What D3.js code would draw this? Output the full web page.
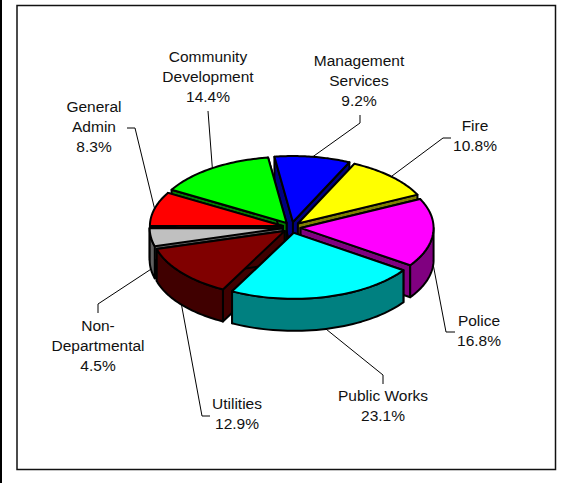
<!DOCTYPE html>
<html>
<head>
<meta charset="utf-8">
<script src="https://cdn.jsdelivr.net/npm/d3@7"></script>
<style>
  html, body { margin: 0; padding: 0; background: #fff; }
  svg { display: block; }
  text { font-family: "Liberation Sans", Arial, sans-serif; font-size: 15.5px; fill: #111; }
</style>
</head>
<body>
<svg id="chart" width="565" height="483"></svg>
<script>
// Budget shares by department, clockwise from the first slice
const departments = ["Management Services", "Fire", "Police", "Public Works", "Utilities", "Non-Departmental", "General Admin", "Community Development"];
const shares = [9.2, 10.8, 16.8, 23.1, 12.9, 4.5, 8.3, 14.4];

// Top face and side wall colours per department
const faceColors = ["#0000ff", "#ffff00", "#ff00ff", "#00ffff", "#800000", "#c0c0c0", "#ff0000", "#00ff00"];
const wallColors = ["#000080", "#808000", "#800080", "#008080", "#400000", "#606060", "#800000", "#008000"];

// Slices are painted back to front so nearer ones overlap farther walls
const paintOrder = [0, 7, 1, 6, 2, 5, 4, 3];

// Label text lines, split to fit
const labelLines = [
  ["Management", "Services", "9.2%"],
  ["Fire", "10.8%"],
  ["Police", "16.8%"],
  ["Public Works", "23.1%"],
  ["Utilities", "12.9%"],
  ["Non-", "Departmental", "4.5%"],
  ["General", "Admin", "8.3%"],
  ["Community", "Development", "14.4%"]
];

// Label anchors (centre x, first baseline y) and leader routing
const labelAnchors = [[359, 66], [475, 131], [479, 326], [383, 401], [237, 409], [98, 331], [94, 112], [208, 62]];
const leaderBends = [
  [[360, 123], [360, 115]],
  [[443, 138], [451, 138]],
  [[446, 332], [455, 332]],
  [[383, 375], [383, 384]],
  [[202, 416], [210, 416]],
  [[98, 304], [98, 313]],
  [[135, 128], [127, 128]],
  [[208, 111]]
];

const width = 565, height = 483;
const cx = 291.6, cy = 227.5, rx = 133, ry = 66, depth = 32, pullX = 9, pullY = 5.5;
const startDeg = -8;

const svg = d3.select("#chart");

// Page edge band and chart frame
svg.append("rect").attr("x", 0).attr("y", 0).attr("width", 2).attr("height", height).attr("fill", "#000");
svg.append("rect").attr("x", 17).attr("y", 5.5).attr("width", 538.5).attr("height", 464)
  .attr("fill", "#fff").attr("stroke", "#111").attr("stroke-width", 1.5);

const pie = d3.pie().sort(null)
  .startAngle(startDeg * Math.PI / 180)
  .endAngle((startDeg + 360) * Math.PI / 180);
const arcs = pie(shares);

// Projection of a slice onto the tilted plane: angle 0 points up the screen
const apexOf = a => {
  const mid = (a.startAngle + a.endAngle) / 2;
  return [cx + pullX * Math.sin(mid), cy - pullY * Math.cos(mid)];
};
const rimPoint = (apex, ang, drop = 0) => [apex[0] + rx * Math.sin(ang), apex[1] - ry * Math.cos(ang) + drop];
const sampleAngles = (a0, a1) => d3.range(0, 41).map(i => a0 + (a1 - a0) * i / 40);
const line = d3.line();
const closed = pts => line(pts) + "Z";

const sliceLayer = svg.append("g")
  .attr("stroke", "#000").attr("stroke-width", 2).attr("stroke-linejoin", "round");

paintOrder.forEach(i => {
  const a = arcs[i];
  const apex = apexOf(a);
  const low = [apex[0], apex[1] + depth];
  const g = sliceLayer.append("g");

  // Radial walls: one per cut edge
  [a.startAngle, a.endAngle].forEach(ang => {
    g.append("path").attr("fill", wallColors[i]).attr("d", closed([
      apex, rimPoint(apex, ang), rimPoint(apex, ang, depth), low
    ]));
  });

  // Outer wall, only where the rim faces the viewer
  const lo = Math.max(a.startAngle, Math.PI / 2);
  const hi = Math.min(a.endAngle, Math.PI * 1.5);
  if (hi > lo) {
    const angs = sampleAngles(lo, hi);
    const pts = angs.map(t => rimPoint(apex, t)).concat(angs.slice().reverse().map(t => rimPoint(apex, t, depth)));
    g.append("path").attr("fill", wallColors[i]).attr("d", closed(pts));
  }

  // Top face
  const face = [apex].concat(sampleAngles(a.startAngle, a.endAngle).map(t => rimPoint(apex, t)));
  g.append("path").attr("fill", faceColors[i]).attr("d", closed(face));
});

// Leader lines run from each slice's rim midpoint to its label
const leaderLayer = svg.append("g").attr("fill", "none").attr("stroke", "#000").attr("stroke-width", 1);
arcs.forEach((a, i) => {
  const mid = (a.startAngle + a.endAngle) / 2;
  const drop = Math.cos(mid) < 0 ? depth : 0;
  const from = rimPoint(apexOf(a), mid, drop);
  leaderLayer.append("path").attr("d", line([from].concat(leaderBends[i])));
});

// Department labels
const labels = svg.append("g").attr("text-anchor", "middle");
labelLines.forEach((rows, i) => {
  const t = labels.append("text").attr("aria-label", departments[i]);
  const spacing = rows.length === 3 ? 20 : 19.5;
  rows.forEach((row, k) => {
    t.append("tspan").attr("x", labelAnchors[i][0]).attr("y", labelAnchors[i][1] + k * spacing).text(row);
  });
});
</script>
</body>
</html>
